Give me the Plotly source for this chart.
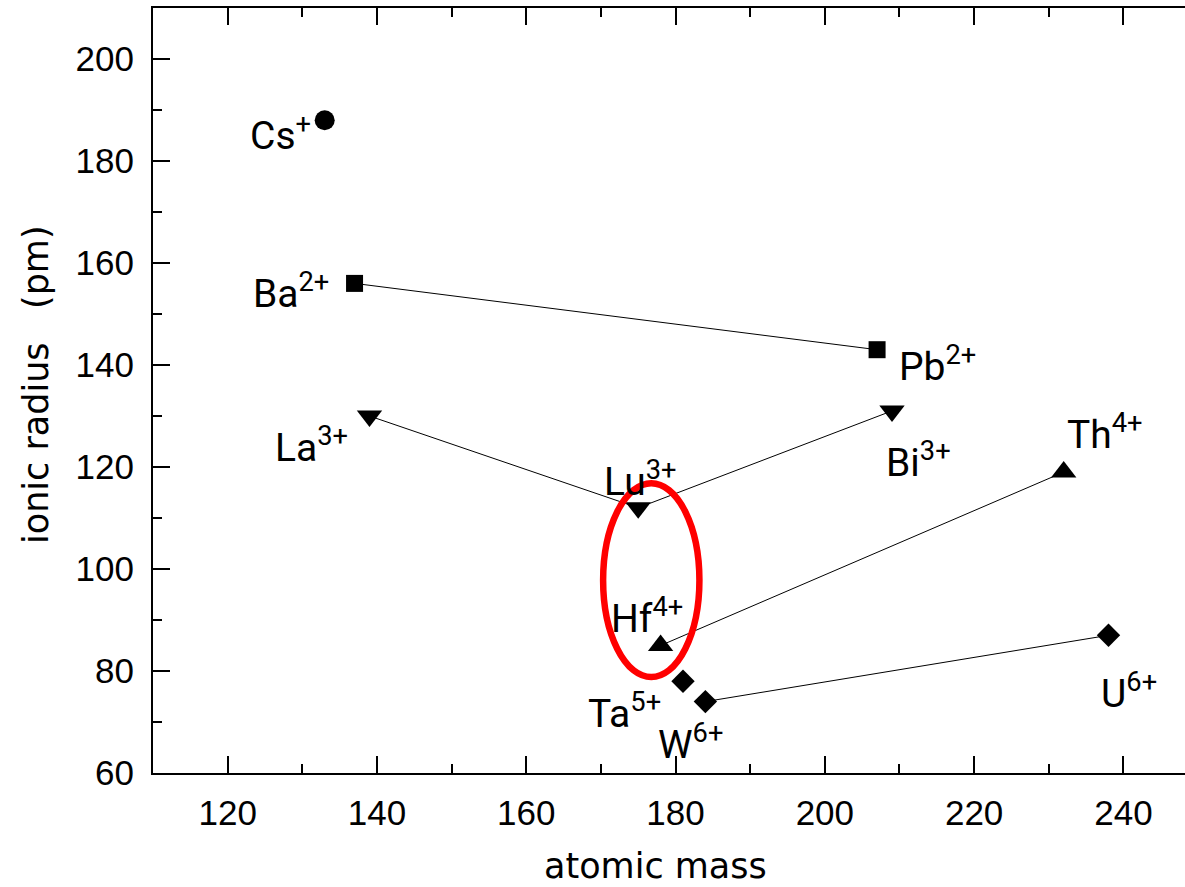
import plotly.graph_objects as go

# Ionic radii versus atomic mass
ions = ["Cs", "Ba", "Pb", "La", "Lu", "Bi", "Hf", "Th", "Ta", "W", "U"]
charges = ["+", "2+", "2+", "3+", "3+", "3+", "4+", "4+", "5+", "6+", "6+"]
atomic_mass = [133, 137, 207, 139, 175, 209, 178, 232, 181, 184, 238]
ionic_radius = [188, 156, 143, 130, 112, 131, 85, 119, 78, 74, 87]

# series grouped by marker symbol, and the lines joining related ions
symbol_groups = {
    "circle": ["Cs"],
    "square": ["Ba", "Pb"],
    "triangle-down": ["La", "Lu", "Bi"],
    "triangle-up": ["Hf", "Th"],
    "diamond": ["Ta", "W", "U"],
}
connections = [["Ba", "Pb"], ["La", "Lu", "Bi"], ["Hf", "Th"], ["W", "U"]]

# region highlighted around Lu / Hf
highlight_x = [170.3, 183.2]
highlight_y = [78.8, 116.8]

x_ticks = [120, 140, 160, 180, 200, 220, 240]
y_ticks = [60, 80, 100, 120, 140, 160, 180, 200]

idx = {name: i for i, name in enumerate(ions)}

marker_sizes = {"circle": 20, "square": 17, "triangle-down": 22,
                "triangle-up": 22, "diamond": 18}

# label placement: (anchor side, dx px, dy px downward to the text middle)
label_place = {
    "Cs": ("right", -12, 15), "Ba": ("right", -24, 10),
    "Pb": ("left", 20, 17), "La": ("right", -19, 31),
    "Lu": ("left", -36, -26), "Bi": ("left", -8, 52),
    "Hf": ("left", -52, -27), "Th": ("left", 1, -38),
    "Ta": ("right", -20, 32), "W": ("left", -49, 43),
    "U": ("left", -9, 58),
}

fig = go.Figure()

for chain in connections:
    fig.add_trace(go.Scatter(
        x=[atomic_mass[idx[n]] for n in chain],
        y=[ionic_radius[idx[n]] for n in chain],
        mode="lines", line=dict(color="black", width=1),
        hoverinfo="skip", showlegend=False,
    ))

for sym, names in symbol_groups.items():
    fig.add_trace(go.Scatter(
        x=[atomic_mass[idx[n]] for n in names],
        y=[ionic_radius[idx[n]] for n in names],
        mode="markers",
        marker=dict(symbol=sym, size=marker_sizes[sym], color="black",
                    line=dict(width=0)),
        text=names, showlegend=False,
    ))

fig.add_shape(type="circle", xref="x", yref="y",
              x0=highlight_x[0], x1=highlight_x[1],
              y0=highlight_y[0], y1=highlight_y[1],
              line=dict(color="#ff0000", width=6.5))

label_font = dict(family="Roboto", size=39, color="black")
for name, q, xm, yr in zip(ions, charges, atomic_mass, ionic_radius):
    side, dx, dy = label_place[name]
    fig.add_annotation(x=xm, y=yr, xref="x", yref="y",
                       text=f"{name}<sup>{q}</sup>", showarrow=False,
                       xanchor=side, yanchor="middle",
                       xshift=dx, yshift=2 - dy, font=label_font)

W, H = 1185, 887
L, R, T, B = 153, 0, 8, 114


def paper_x(px):
    return (px - L) / (W - L - R)


def paper_y(py):
    return (H - B - py) / (H - T - B)


title_font = dict(family="DejaVu Sans", size=35, color="black")
fig.add_annotation(x=paper_x(655), y=paper_y(866), xref="paper", yref="paper",
                   text="atomic mass", showarrow=False, font=title_font,
                   xanchor="center", yanchor="middle")
fig.add_annotation(x=paper_x(36), y=paper_y(385), xref="paper", yref="paper",
                   text="ionic radius&nbsp;&nbsp;&nbsp;(pm)", showarrow=False,
                   textangle=-90, font=title_font,
                   xanchor="center", yanchor="middle")

tick_font = dict(family="Liberation Sans", size=35, color="black")
common = dict(showgrid=False, zeroline=False, showline=True,
              linecolor="black", linewidth=2, ticks="inside", ticklen=17,
              tickwidth=2, tickcolor="black", tickfont=tick_font)

fig.update_xaxes(range=[110, 248.25], tickvals=x_ticks, mirror="ticks",
                 minor=dict(ticks="inside", ticklen=9, tickwidth=2,
                            tickcolor="black", dtick=10, tick0=110),
                 ticklabelstandoff=8, **common)
fig.update_yaxes(range=[60, 210], tickvals=y_ticks, mirror=False,
                 minor=dict(ticks="inside", ticklen=9, tickwidth=2,
                            tickcolor="black", dtick=10, tick0=60),
                 ticklabelstandoff=10, **common)

fig.update_layout(
    width=W, height=H, autosize=False,
    margin=dict(l=L, r=R, t=T, b=B),
    plot_bgcolor="white", paper_bgcolor="white",
    showlegend=False,
)

fig.write_html("out.html")
